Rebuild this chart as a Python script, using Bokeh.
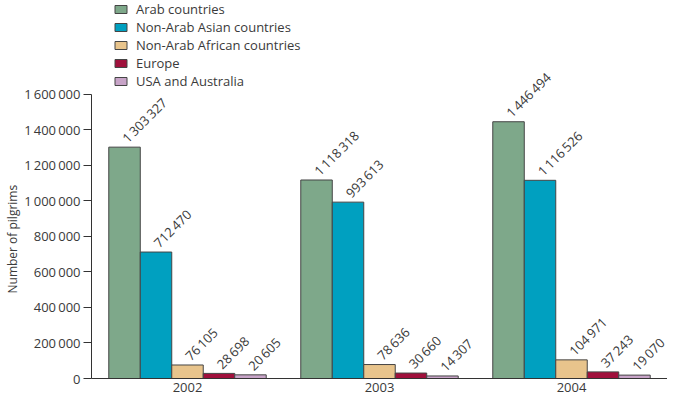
from bokeh.plotting import figure
from bokeh.models import FactorRange, FixedTicker, ColumnDataSource, Legend, LegendItem, Title
from bokeh.transform import dodge
from bokeh.core.properties import value
from bokeh.embed import file_html
from bokeh.resources import INLINE

years = ["2002", "2003", "2004"]
series_names = ["Arab countries", "Non-Arab Asian countries", "Non-Arab African countries",
                "Europe", "USA and Australia"]
arab = [1303327, 1118318, 1446494]
asian = [712470, 993613, 1116526]
african = [76105, 78636, 104971]
europe = [28698, 30660, 37243]
usa_aus = [20605, 14307, 19070]
y_ticks = [0, 200000, 400000, 600000, 800000, 1000000, 1200000, 1400000, 1600000]
y_tick_labels = ["0", "200\u2009000", "400\u2009000", "600\u2009000", "800\u2009000",
                 "1\u2009000\u2009000", "1\u2009200\u2009000", "1\u2009400\u2009000", "1\u2009600\u2009000"]
y_title = "Number of pilgrims"

colors = ["#7ea88a", "#00a0c0", "#e8c48c", "#a0103c", "#c8a4c8"]
series = [arab, asian, african, europe, usa_aus]
offsets = [-0.328, -0.164, 0.0, 0.164, 0.328]
FONT = "Open Sans"
TXT = "#3a3a3a"

def fmt(v):
    return f"{v:,}".replace(",", "\u2009")

p = figure(x_range=FactorRange(*years), y_range=(0, 2129500), width=667, height=400,
           output_backend="svg", toolbar_location=None,
           min_border_left=90, min_border_right=0, min_border_top=0, min_border_bottom=22)
p.outline_line_color = None
p.xgrid.grid_line_color = None
p.ygrid.grid_line_color = None

items = []
for name, vals, col, off in zip(series_names, series, colors, offsets):
    src = ColumnDataSource(dict(year=years, val=vals, lab=[fmt(v) for v in vals]))
    r = p.vbar(x=dodge("year", off, range=p.x_range), top="val", width=0.164, source=src,
               fill_color=col, line_color="#454545", line_width=1)
    p.text(x=dodge("year", off, range=p.x_range), y="val", text="lab", source=src,
           angle=0.785398, x_offset=0, y_offset=-7, text_align="left",
           text_baseline="alphabetic", text_font=value(FONT), text_font_size="13px",
           text_color=TXT)
    items.append(LegendItem(label=name, renderers=[r]))

legend = Legend(items=items, location=(22, 288), padding=0, margin=0, spacing=0,
                label_height=18, glyph_width=15, glyph_height=10, label_standoff=8,
                border_line_alpha=0, background_fill_alpha=0,
                label_text_font=FONT, label_text_font_size="13px", label_text_color=TXT)
p.add_layout(legend)

ya = p.yaxis[0]
ya.ticker = FixedTicker(ticks=y_ticks)
ya.major_label_overrides = {t: l for t, l in zip(y_ticks, y_tick_labels)}
ya.bounds = (0, 1600000)
ya.minor_tick_line_color = None
ya.major_tick_in = 0
ya.major_tick_out = 8
ya.axis_line_color = "#333333"
ya.major_tick_line_color = "#333333"
ya.major_label_text_font = FONT
ya.major_label_text_font_size = "13px"
ya.major_label_text_color = TXT
ya.major_label_standoff = 3

p.add_layout(Title(text=y_title, align="left", offset=85, standoff=2,
                   text_font=FONT, text_font_size="12px", text_font_style="normal",
                   text_color=TXT), "left")

xa = p.xaxis[0]
xa.major_tick_line_color = None
xa.minor_tick_line_color = None
xa.major_tick_out = 0
xa.major_tick_in = 0
xa.axis_line_color = "#333333"
xa.major_label_text_font = FONT
xa.major_label_text_font_size = "13px"
xa.major_label_text_color = TXT
xa.major_label_standoff = 4

open("out.html", "w").write(file_html(p, INLINE))
